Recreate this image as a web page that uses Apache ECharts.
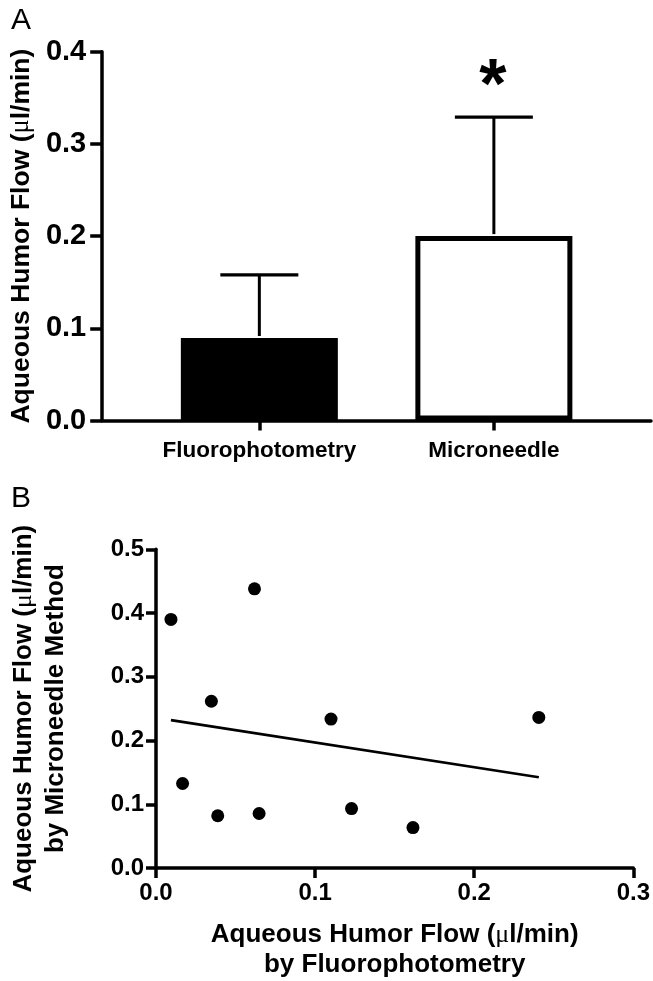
<!DOCTYPE html>
<html>
<head>
<meta charset="utf-8">
<script src="https://cdn.jsdelivr.net/npm/echarts@6/dist/echarts.min.js"></script>
<style>
html,body{margin:0;padding:0;background:#fff;}
#chart{width:653px;height:981px;}
</style>
</head>
<body>
<div id="chart"></div>
<script>
// ---- Panel A data ----
const categories = ['Fluorophotometry', 'Microneedle'];
const categoryPos = [1, 2];
const meanFlow = [0.0895, 0.200];
const errFlow = [0.0685, 0.129];
const significant = [false, true];
const barFill = ['#000000', '#ffffff'];
const yTicksA = [0, 0.1, 0.2, 0.3, 0.4];

// ---- Panel B data ----
const fluoroX = [0.0094, 0.0619, 0.0348, 0.0167, 0.0388, 0.0648, 0.110, 0.1229, 0.1615, 0.2406];
const needleY = [0.390, 0.438, 0.2616, 0.1326, 0.082, 0.0855, 0.2336, 0.0933, 0.0634, 0.2362];
const fitX = [0.0094, 0.2406];
const fitY = [0.232, 0.1425];
const xTicksB = [0, 0.1, 0.2, 0.3];
const yTicksB = [0, 0.1, 0.2, 0.3, 0.4, 0.5];

const FONT = '"Liberation Sans", Arial, Helvetica, sans-serif';
const chart = echarts.init(document.getElementById('chart'), null, {renderer: 'canvas'});

const axisLineStyle = {color: '#000', width: 3.5};
const tickStyle = {color: '#000', width: 3.5};
const muRich = {mu: {fontFamily: '"Liberation Serif", "DejaVu Serif", serif', fontWeight: 'normal'}};

const option = {
  backgroundColor: '#fff',
  animation: false,
  title: [
    {text: 'A', left: 11, top: 6, padding: 0, textStyle: {fontFamily: FONT, fontWeight: 'normal', fontSize: 30, color: '#000'}},
    {text: 'B', left: 11, top: 484, padding: 0, textStyle: {fontFamily: FONT, fontWeight: 'normal', fontSize: 30, color: '#000'}}
  ],
  grid: [
    {left: 97.5, right: 2, top: 51.7, bottom: 560.5},
    {left: 155, right: 18, top: 549.3, bottom: 110}
  ],
  xAxis: [
    {
      gridIndex: 0, type: 'value', min: 0.33, max: 2.67,
      splitLine: {show: false},
      axisLine: {show: true, onZero: false, lineStyle: axisLineStyle},
      axisTick: {show: true, customValues: categoryPos, length: 10, lineStyle: tickStyle},
      axisLabel: {
        customValues: categoryPos, margin: 19,
        fontFamily: FONT, fontWeight: 'bold', fontSize: 22.5, color: '#000',
        formatter: v => categories[categoryPos.indexOf(Math.round(v))] || ''
      }
    },
    {
      gridIndex: 1, type: 'value', min: xTicksB[0], max: xTicksB[xTicksB.length - 1], interval: 0.1,
      splitLine: {show: false},
      axisLine: {show: true, onZero: false, lineStyle: axisLineStyle},
      axisTick: {show: true, length: 10, lineStyle: tickStyle},
      axisLabel: {margin: 13, fontFamily: FONT, fontWeight: 'bold', fontSize: 24, color: '#000', formatter: v => v.toFixed(1)},
      name: 'Aqueous Humor Flow ({mu|μ}l/min)\nby Fluorophotometry',
      nameLocation: 'middle', nameGap: 52,
      nameTextStyle: {fontFamily: FONT, fontWeight: 'bold', fontSize: 26, color: '#000', lineHeight: 30, rich: muRich}
    }
  ],
  yAxis: [
    {
      gridIndex: 0, type: 'value', min: yTicksA[0], max: yTicksA[yTicksA.length - 1], interval: 0.1,
      splitLine: {show: false},
      axisLine: {show: true, onZero: false, lineStyle: axisLineStyle},
      axisTick: {show: true, length: 12, lineStyle: tickStyle},
      axisLabel: {margin: 16, fontFamily: FONT, fontWeight: 'bold', fontSize: 29, color: '#000', formatter: v => v.toFixed(1)},
      name: 'Aqueous Humor Flow ({mu|μ}l/min)',
      nameLocation: 'middle', nameGap: 62,
      nameTextStyle: {fontFamily: FONT, fontWeight: 'bold', fontSize: 26.5, color: '#000', rich: muRich}
    },
    {
      gridIndex: 1, type: 'value', min: yTicksB[0], max: yTicksB[yTicksB.length - 1], interval: 0.1,
      splitLine: {show: false},
      axisLine: {show: true, onZero: false, lineStyle: axisLineStyle},
      axisTick: {show: true, length: 10, lineStyle: tickStyle},
      axisLabel: {margin: 12, fontFamily: FONT, fontWeight: 'bold', fontSize: 24, color: '#000', formatter: v => v.toFixed(1)},
      name: 'Aqueous Humor Flow ({mu|μ}l/min)\nby Microneedle Method',
      nameLocation: 'middle', nameGap: 84,
      nameTextStyle: {fontFamily: FONT, fontWeight: 'bold', fontSize: 26, color: '#000', lineHeight: 32, rich: muRich}
    }
  ],
  series: [
    {
      type: 'bar', xAxisIndex: 0, yAxisIndex: 0,
      barWidth: 157,
      data: categoryPos.map((x, i) => ({
        value: [x, meanFlow[i]],
        itemStyle: {color: barFill[i], borderColor: '#000', borderWidth: 5}
      })),
      z: 2
    },
    {
      type: 'custom', xAxisIndex: 0, yAxisIndex: 0,
      data: categoryPos.map((x, i) => [x, meanFlow[i], errFlow[i], significant[i] ? 1 : 0]),
      renderItem: function (params, api) {
        const x = api.value(0), m = api.value(1), e = api.value(2), sig = api.value(3);
        const base = api.coord([x, m]);
        const top = api.coord([x, m + e]);
        const half = 39;
        const children = [
          {type: 'line', shape: {x1: base[0], y1: base[1] - 2, x2: top[0], y2: top[1]}, style: {stroke: '#000', lineWidth: 3}},
          {type: 'line', shape: {x1: top[0] - half, y1: top[1], x2: top[0] + half, y2: top[1]}, style: {stroke: '#000', lineWidth: 3.2}}
        ];
        if (sig) {
          children.push({
            type: 'text', x: top[0] - 1, y: top[1] - 28,
            style: {text: '*', fontFamily: FONT, fontWeight: 'bold', fontSize: 70, fill: '#000', align: 'center', verticalAlign: 'middle'}
          });
        }
        return {type: 'group', children: children};
      },
      z: 3
    },
    {
      type: 'line', xAxisIndex: 1, yAxisIndex: 1,
      data: fitX.map((x, i) => [x, fitY[i]]),
      symbol: 'none',
      lineStyle: {color: '#000', width: 2.6},
      z: 2
    },
    {
      type: 'scatter', xAxisIndex: 1, yAxisIndex: 1,
      data: fluoroX.map((x, i) => [x, needleY[i]]),
      symbol: 'circle', symbolSize: 13,
      itemStyle: {color: '#000', opacity: 1},
      z: 3
    }
  ]
};
chart.setOption(option);
</script>
</body>
</html>
